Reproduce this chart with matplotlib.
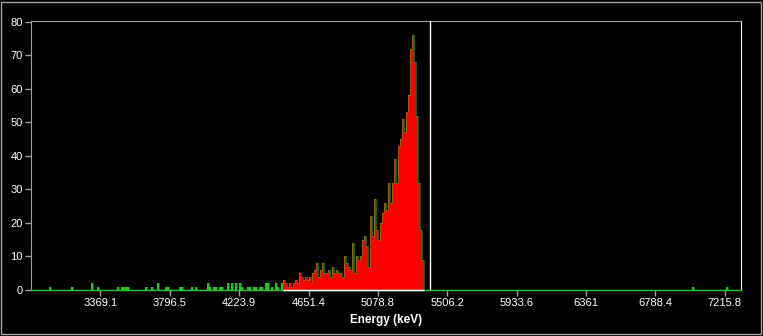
# spectrum.py
# gamma spectrum plot, black background, ROI filled red

import numpy as np
import matplotlib
matplotlib.use('Agg')
import matplotlib.pyplot as plt
from matplotlib.patches import Rectangle

# axis range and bin layout (keV)
E_MIN = 2941.7
E_MAX = 7316.0
BIN_W = 12.3

# sparse low-energy / tail counts (keV, counts)
low_energy = [3055, 3196, 3320, 3351, 3480, 3505, 3517, 3529, 3542, 3646,
              3689, 3726, 3769, 3782, 3856, 3868, 3936, 3954, 4028, 4047,
              4065, 4084, 4102, 4120, 4151, 4182, 4200, 4225, 4243, 4274,
              4293, 4311, 4330, 4348, 4367, 4385, 4404, 4428, 4447, 4465,
              4484, 7015, 7224]
low_counts = [1, 1, 2, 1, 1, 1, 1, 1, 1, 1,
              1, 2, 1, 1, 1, 1, 1, 1, 2, 1,
              1, 1, 1, 1, 2, 2, 2, 2, 1, 1,
              1, 1, 1, 1, 1, 2, 2, 1, 2, 1,
              2, 1, 1]

# region of interest (red), one value per bin starting at PEAK_START
PEAK_START = 4496.0
peak_counts = [3, 2, 1, 2, 1, 2, 3, 2, 5, 4,
               3, 4, 3, 4, 2, 5, 6, 8, 4, 6,
               8, 5, 5, 6, 4, 7, 5, 6, 5, 5,
               4, 10, 8, 7, 6, 14, 5, 10, 9, 10,
               15, 16, 13, 7, 22, 16, 27, 18, 15, 20,
               23, 26, 24, 32, 26, 32, 39, 32, 43, 45,
               51, 47, 53, 58, 72, 76, 68, 52, 32, 18,
               9]

MARKER_E = 5397.0

x_ticks = [3369.1, 3796.5, 4223.9, 4651.4, 5078.8, 5506.2, 5933.6, 6361,
           6788.4, 7215.8]
x_tick_labels = ['3369.1', '3796.5', '4223.9', '4651.4', '5078.8', '5506.2',
                 '5933.6', '6361', '6788.4', '7215.8']
y_ticks = [0, 10, 20, 30, 40, 50, 60, 70, 80]

GREEN = '#22c422'
GRAY = '#a0a0a0'

plt.rcParams['font.family'] = ['Liberation Sans', 'DejaVu Sans']

# build full histogram
n_bins = int(np.ceil((E_MAX - E_MIN) / BIN_W))
edges = E_MIN + BIN_W * np.arange(n_bins + 1)
counts = np.zeros(n_bins)
idx = ((np.array(low_energy) - E_MIN) / BIN_W).astype(int)
counts[idx] = low_counts
p0 = int((PEAK_START - E_MIN) / BIN_W)
counts[p0:p0 + len(peak_counts)] = peak_counts
peak_edges = edges[p0:p0 + len(peak_counts) + 1]

fig = plt.figure(figsize=(7.63, 3.36), dpi=100)
fig.patch.set_facecolor('black')
ax = fig.add_axes([31 / 763, 46 / 336, 710 / 763, 269 / 336])
ax.set_facecolor('black')

# green filled spectrum, red ROI on top, thin green outline
ax.stairs(counts, edges, fill=True, color=GREEN, baseline=0, zorder=1)
ax.stairs(peak_counts, peak_edges, fill=True, color='#ff0000',
          baseline=0, zorder=2)
ax.step(edges[:-1], counts, where='post', color=GREEN, lw=0.5,
        alpha=0.7, zorder=3)
ax.axhline(0, color=GREEN, lw=1, zorder=3, clip_on=False)
ax.hlines(0, peak_edges[0], peak_edges[-1], color='white', lw=1,
          zorder=3.5, clip_on=False)
ax.axvline(MARKER_E, color='white', lw=1, zorder=4)

ax.set_xlim(E_MIN, E_MAX)
ax.set_ylim(0, 80.2)
ax.set_xticks(x_ticks)
ax.set_xticklabels(x_tick_labels)
ax.set_yticks(y_ticks)
ax.tick_params(colors=GRAY, labelcolor='white', labelsize=8,
               length=4, width=1, pad=2)

for side in ['left', 'top']:
    ax.spines[side].set_color(GRAY)
ax.spines['right'].set_color('white')
ax.spines['bottom'].set_color('white')

ax.set_xlabel('Energy (keV)', color='white', fontsize=8.5,
              fontweight='bold', labelpad=4)

# outer frame round the whole picture
fig.patches.append(Rectangle((1.5 / 763, 2.5 / 336), 759 / 763, 332 / 336,
                             transform=fig.transFigure, fill=False,
                             edgecolor=GRAY, lw=1))

fig.savefig('out.png', dpi=100, facecolor='black')
